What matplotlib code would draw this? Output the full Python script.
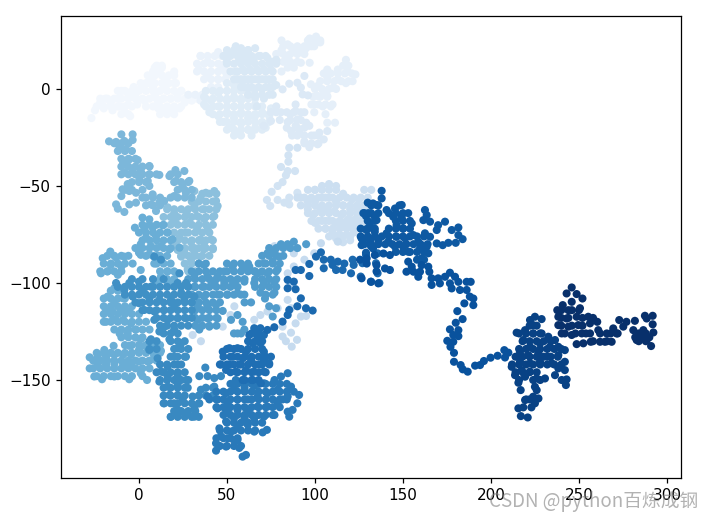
import matplotlib
matplotlib.use('Agg')
import matplotlib.pyplot as plt

# points, group by group, in walk order (light to dark)
walk_a = [(-27,-15),(-25,-11),(-22,-7),(-19,-5),(-20,-10),(-16,-7),(-15,-11),(-12,-5),(-10,-1),(-11,-9),(-8,-12),(-5,-14),(-6,-8),(-6,-3),(-3,1),(-1,-8),(-2,-4),(1,0),(3,-6),(4,3),(7,6),(8,1),(9,-3),(11,-7),(11,-10),(8,9),(10,12),(13,12),(12,8),(15,5),(15,0),(14,-5),(15,-10),(19,-10),(18,-5),(20,3),(20,9),(22,-3),(23,-10),(24,-1),(26,-7),(30,-6),(33,-5)]
walk_b = [(35,-6),(35,17),(34,10),(39,14),(45,19),(47,12),(39,7),(45,5),(50,7)]
walk_c = [(37,-4),(37,-8),(40,-12),(41,-6),(45,-9),(45,-14),(45,-2),(48,-17),(50,-12),(50,-6),(50,-1),(52,-20),(54,-15),(54,-9),(54,-4),(54,2),(56,-23),(58,-18),(58,-12),(58,-6),(58,0),(62,-21),(62,-15),(62,-9),(62,-3),(66,-20),(66,-14),(66,-8),(70,-18),(70,-12),(72,-20),(74,-14),(75,-10)]
walk_d = [(50,14),(52,18),(55,22),(58,21),(62,20),(66,21),(57,15),(61,15),(65,15),(69,17),(73,16),(76,14),(78,15),(55,9),(59,10),(63,10),(67,10),(71,10),(75,10),(58,5),(62,5),(66,5),(70,5),(74,5),(62,1),(66,0),(70,0),(74,1),(78,2),(66,-4),(71,-5),(76,-3),(67,-9)]
walk_e = [(81,25),(84.5,23),(88,20),(92,20),(97,26),(100.6,27),(103,24),(99.6,22),(95,21),(81,20),(84.5,17),(84.5,11),(88,11),(92,13.5),(97,13.5),(81,9),(117.6,15),(107,10),(113,10),(118.6,9),(123,7.5),(121.4,4),(107,6),(113,5),(117.6,3),(110,0.5),(105,-1),(101.5,-3.6),(97.7,2.4),(101.5,1.5),(107,-3.6),(99.6,-8),(104.4,-9),(109,-9),(106,-13),(99.6,-12),(107,-17.4),(111.4,-17.4)]
walk_f = [(81.6,-0.2),(85.4,2.7),(90,3.2),(92,0.7),(94,6.7),(93,-2.8),(96,-3.3),(78,-9),(80.7,-12),(75,-12),(75,-16.5),(71,-19),(89,-8),(89,-11.4),(86,-13),(94,-12),(84.5,-17),(90,-15.7),(95,-17.4),(96.8,-19),(86.4,-21.7),(91,-22.5),(89,-19),(94,-27),(87,-24),(96.8,-30),(101.5,-28.5),(99.6,-24),(105,-26),(107,-21.7),(102.5,-22.5)]
walk_g = [(85.4,-30.3),(90,-30.3),(84.9,-34.2),(84.9,-37.5),(80.7,-40.2),(88.7,-42.3),(84.5,-42.3),(83.5,-44.5),(81.6,-48),(78.8,-50),(75.4,-53),(72.7,-57.2),(74.6,-60.3),(78.8,-57.2),(82.6,-58.6),(85.4,-56),(90,-53.5),(85.4,-59.5)]
walk_h = [(92,-56),(96,-58),(100,-52),(104,-50),(108,-49),(112,-50),(116,-54),(121,-57),(125,-57),(128,-52),(132,-52),(130,-58),(128,-62),(124,-62),(120,-62),(116,-60),(112,-58),(108,-56),(104,-56),(100,-58),(96,-62),(99,-65),(103,-62),(107,-62),(111,-63),(115,-65),(119,-67),(123,-67),(127,-67),(100,-69),(104,-68),(108,-68),(112,-69),(116,-71),(120,-71),(124,-71),(128,-71),(106,-72),(110,-74),(114,-75),(118,-75),(122,-74),(116,-79),(112,-77),(120,-78)]
walk_i = [(113,-78.7),(103.4,-79.5),(99.6,-84.7),(94,-88),(88,-91.5),(84.5,-95),(88,-84.7),(77,-81),(73,-84.7),(86.4,-100),(84.5,-108.7),(86.4,-113),(78.8,-113),(73,-114.7),(69,-116.5),(65.5,-119),(92,-117.3),(89,-120.8),(81.6,-122.5),(86.4,-125.6),(81.6,-127.6),(83.5,-130),(86.8,-132.8),(89.8,-129.3),(95,-117),(54.2,-112),(52,-116.5),(47.6,-122.5),(35.2,-130),(30.5,-126.8),(-1.7,-129)]
walk_j = [(16.3,-61),(20,-64),(20,-67),(27,-64),(31.5,-60.3),(35,-56),(31.5,-52.6),(38,-53.5),(42.8,-52.6),(43.8,-57.7),(44.7,-60.3),(42.8,-65.5),(37,-62),(37,-67),(33,-65.5),(28.6,-69),(33,-72.4),(39,-72.4),(26.7,-74),(29.6,-79),(35,-77.5),(41,-77.5),(24,-82.6),(31.5,-84.4),(37,-82.6),(42,-82.6),(21,-81),(23,-76.6),(37,-79.5),(31.5,-82),(25.8,-83),(24,-86.4),(29.6,-88),(35,-86.4),(27.7,-93),(22,-83)]
walk_k = [(-10,-23.4),(-3.6,-23.4),(-17,-27),(-13,-27.3),(-8.3,-26.8),(-3.6,-26.3),(-11,-30.3),(-7.4,-31),(-9,-38),(-5.5,-36.3),(-0.7,-36.6),(-8.3,-43),(-3.6,-41.4),(1,-42.3),(5.9,-39.7),(5.9,-44),(11.6,-44.3),(0.2,-46.6),(5,-47.4),(-6.4,-49),(5.9,-50),(-9.3,-51.7),(-5.5,-52.6),(-1.7,-53.5),(-10,-55.2),(17.3,-44.9),(20.7,-41.8),(25.8,-42.3),(21,-47.4),(28.6,-47.4),(24.8,-50),(20,-55.2),(26.7,-53.5),(-13,-59.5),(-12,-61.7),(-8.3,-63.4),(-5.5,-59.5),(-1.7,-58.6),(2,-56),(7.8,-54.3),(6.8,-59.5),(11.6,-58.6),(9.7,-62.9),(14.4,-57.7)]
walk_l = [(-2.3,-71.5),(2,-66.3),(5.9,-67.2),(3,-72.4),(7.8,-71.5),(13.5,-70.3),(4,-76.6),(9.7,-75.8),(16.3,-74),(19,-77.5),(1,-80),(6.8,-81),(12.5,-81),(17.3,-82.6),(23,-81.8),(0,-84.4),(5.9,-85.2),(10.6,-86),(-16.3,-83.8),(-20.6,-87.2),(-21.6,-95),(-17.8,-94),(-13,-87),(-8.3,-86.4),(-3.6,-90),(1,-85.5),(-16,-90.7),(-10,-91.5),(-12,-95.8),(1,-93.3),(8.7,-90),(12.5,-96.7),(16.3,-94),(10.6,-100),(16.3,-100),(22,-95),(20,-100)]
walk_m = [(-14,-102.7),(-17.8,-107),(-14,-110.4),(-9,-107.9),(-18.7,-114.7),(-15,-114.7),(-10,-113.9),(-18.7,-120),(-14,-119),(-9,-119),(-5.5,-114.7),(-4.5,-120.8),(-11,-126),(-6.4,-126),(-1.7,-124),(1,-129),(-14.4,-132.4),(-5.5,-132.4),(-19.7,-134.5),(-28,-138.3),(-23.5,-138),(-18.7,-138),(-14,-137),(-9,-137),(-4.5,-137),(0,-134.5),(5,-134.5),(-28,-144),(-23.5,-142),(-18.7,-142),(-14,-141.7),(-9,-141.7),(-4.5,-141.7),(0,-140.5),(5,-140.5),(8.7,-138),(-25.4,-148.2),(-21,-149.6),(-14,-148.2),(-5.5,-149.6),(1,-146.5),(4.6,-150),(12.5,-135),(1,-132.8)]
walk_n = [(73,-84.7),(77,-83.8),(80.7,-80),(84.5,-80),(88,-78.7),(95,-80),(71,-89.8),(76,-89),(79.8,-86.4),(67.4,-95),(73,-95),(78.8,-93),(65.5,-100),(71,-100),(77,-99.3),(69,-105),(77,-105),(71.6,-108),(74,-112),(77.9,-113),(76,-117.3),(53.2,-91.5),(59,-92.4),(62.7,-91.5),(65.5,-94),(48.5,-94),(44.7,-96.7),(37,-90.7),(31.5,-95.8),(39,-96.7),(48.5,-100),(54.2,-100),(59.9,-99.3),(42.8,-100),(37,-101.9),(31.5,-101.9),(44.7,-106),(50.4,-106),(56,-105.3),(59.9,-106),(63.7,-110),(37,-107),(33.4,-112),(39,-112),(43.8,-111.3),(33.4,-119),(39,-118.2),(44.7,-118.2),(34.3,-124),(40,-122.5),(47.6,-114.4),(52.3,-119),(56,-116.5),(58.9,-120),(56,-126),(59.9,-124)]
walk_o = [(-13,-100),(-8.3,-103.6),(-5.5,-100),(0,-99.3),(-3.6,-107),(2,-103.6),(6.8,-101.9),(0,-110.4),(5.9,-107.9),(11.6,-108.7),(3,-113.9),(8.7,-114.7),(14.4,-113.9),(20,-111.3),(25.8,-108.7),(16.3,-119),(22,-118.2),(26.7,-118.2),(8.7,-119),(20,-124),(14.4,-122.5),(11.6,-125),(18.2,-108.7),(22,-100),(26.7,-100),(24,-105),(31.5,-107),(6.8,-129),(5.9,-134.5),(10.6,-138.8),(17.3,-129),(22,-133.6),(20,-138),(26.7,-138),(24,-131),(8.7,-86.4),(12.5,-88),(23,-95)]
walk_p = [(12.5,-145.7),(16.3,-143),(22,-142),(11.6,-150.8),(16.3,-148),(22,-147.4),(26.7,-150),(16.3,-153.4),(22,-152.5),(27.7,-154),(14.4,-162),(17.3,-157.7),(22,-157.7),(20,-162),(24.8,-160),(18.2,-168.9),(22,-165.4),(26.7,-167),(31.5,-168.9),(31.5,-164.6),(34.3,-162),(30.5,-158.5),(35.2,-155),(37.7,-143.6),(39,-148),(34.3,-148),(42.8,-153.4),(46.6,-148),(42.8,-149)]
walk_q = [(39,-158.5),(44.7,-160),(49.5,-156.8),(55,-150),(54,-155),(60,-154),(65.5,-153),(71,-151.7),(77,-150),(84.5,-146.5),(80.7,-148.2),(86.4,-153.4),(91,-157.7),(90,-162),(84.5,-158.5),(78.8,-155),(73,-156.8),(67.4,-158.5),(61.8,-160),(56,-160),(50.4,-162),(44.7,-164.6),(50.4,-165.4),(56,-165.4),(61.8,-165.4),(67.4,-163.7),(73,-163.7),(78.8,-162),(81.6,-160),(84.5,-166.3),(87.3,-165.4),(85.4,-168.9),(77,-168),(71,-168.9),(65.5,-169.7),(60,-169.7),(54,-169.7),(49.5,-171.4),(56,-174),(61.8,-173),(65.5,-176.6),(70.3,-177),(72.7,-175.7),(45.7,-174.9),(46.6,-179),(52.3,-176.6),(50.4,-180),(43.8,-182.6),(43.8,-186.4),(49.5,-184.3),(56,-180.9),(57,-185),(58.9,-189.5),(60.8,-188.6),(54,-180.9)]
walk_r = [(65.5,-123.3),(69,-123.3),(62.7,-126.8),(67.4,-127.6),(71,-126.8),(64.6,-131),(69,-131),(51.4,-133.6),(56,-133.6),(47.6,-135.4),(60.8,-135.4),(71,-135.4),(53.2,-138),(59,-138.8),(75,-138),(46.6,-142),(51.4,-142),(57,-142),(63.7,-139.6),(68.4,-142),(74,-141.4),(49.5,-144.8),(55,-145.7),(60.8,-144.8),(65.5,-145.7),(71,-145.7),(64.6,-150),(69.3,-151.7),(58.9,-150),(71,-139.6)]
walk_s = [(76.9,-122.8),(73,-124.2),(81.6,-119.9),(84.5,-116.5),(85.4,-113.9),(90,-112),(94.9,-113),(98.7,-114.2),(92,-107.9),(89,-103.2),(84.5,-102.7),(88,-99.3),(84.5,-98.4),(96.8,-96.4),(96.8,-90.2),(92,-93.3),(89,-93.3),(100.6,-86.4),(103.4,-84.2),(105,-88),(109,-88),(113,-89),(116.7,-90),(105,-92.4),(112,-93.3),(115.7,-93.3),(110,-90.7),(121.4,-88),(120.5,-95),(126,-96.7),(122,-90.7),(127,-89.8),(131.8,-99.3),(136.6,-100),(135.6,-95),(134.7,-89.8),(129,-85.5),(135.6,-84.7)]
walk_t = [(137.9,-52.5),(137.9,-56.4),(133,-59),(130.3,-64),(127.5,-64),(135,-59.8),(140.7,-62.4),(145.5,-61.6),(149.3,-59.8),(144.5,-65.9),(149.3,-65.9),(153,-64),(155,-69.3),(150.2,-71.9),(146.4,-70.2),(131.3,-69.3),(135,-67.6),(129.4,-72.7),(134,-73.6),(126.5,-77),(131.3,-77.9),(136,-77.9),(140.7,-74.4),(141.7,-78.7),(146.4,-76.2),(145.5,-81.3),(151.2,-77),(150.2,-81.3),(155.9,-75.3),(158.7,-78.7),(162.5,-74.4),(165.4,-76.2),(169.2,-79.6),(163.5,-81.3),(159.7,-82.2),(164.4,-84.7),(153,-83.9),(160.6,-87.3),(133,-82.2),(126.5,-80.5),(172.6,-80.5),(175.8,-79.3),(180,-79.3),(183.9,-77.4),(181.5,-75.3),(177.7,-72.7),(181.5,-71.4),(169.2,-72.7),(170,-70.2),(173.9,-68.4),(161.6,-67.6),(165.4,-68.4),(162.5,-62.4),(163.5,-65),(130,-58.6),(129,-65.5),(133.7,-65.5),(129,-72.4),(133.7,-72.4),(127,-77.5),(131.8,-81),(129,-84.4)]
walk_u = [(125.6,-88),(129.4,-87.3),(134,-85.6),(138.9,-84.8),(142.6,-85.6),(129.4,-90),(135,-90.8),(139.8,-92.5),(142.6,-93.3),(135,-94),(126.5,-97.6),(131.9,-99.4),(136,-100.2),(153,-89),(152,-94.2),(155,-91.6),(156,-94.2),(158.7,-96.8),(160.6,-90.8),(159.7,-94.2),(164.4,-91.6),(165,-94.2),(166.3,-97.6),(166.3,-101),(170,-97.6),(171,-100.2),(173.9,-96.8),(176.7,-94.7),(176.7,-100.2),(179.6,-96.8),(181.5,-99.4),(177.7,-102.8),(182.4,-103.6),(186.2,-99.4),(188.5,-99.4),(186.2,-103.6),(188,-107),(190,-108),(190,-111.4),(184.9,-110.5),(180.9,-114.5),(183.9,-118.6),(180,-120.5),(176.7,-123.9),(181.5,-124.3),(178.6,-126.8),(181.5,-127.4),(175.2,-129.8),(178.6,-130.3),(177,-132.9),(179,-136),(179,-140.6),(182.8,-142.3),(184,-144.5),(186.8,-145.7),(191,-142.6),(193.8,-142.3),(196,-140.2),(199.8,-138.5),(203.8,-137.5),(207.6,-134.6),(209.9,-135.9),(208,-138.4)]
walk_v = [(214.6,-125.6),(219.4,-124.3),(222.2,-119.1),(225,-117.4),(228.8,-118.6),(224,-121.7),(218.4,-129.4),(224,-126),(228.8,-126),(232.6,-127.7),(236.4,-129.4),(222.2,-132.9),(227.9,-131.1),(233.6,-132.9),(238.3,-132.9),(242,-134.6),(216.5,-135.4),(221.2,-137.2),(227,-136.3),(232,-138),(238.3,-137.2),(216.5,-140.6),(222.2,-141.4),(227.9,-140.6),(234.5,-141.4),(242,-140.6),(211.8,-143.2),(217.5,-144.9),(222.2,-145.7),(238.3,-144),(242,-144.9),(213.7,-147.5),(219.4,-148.3),(226,-149.2),(230.7,-149.2),(236.4,-147.5),(240.2,-150),(243,-149.7),(242.6,-152.6),(215.6,-151.4),(216.9,-155.2),(225,-153.5),(226,-155.2),(224,-158.6),(227,-159.5),(219.4,-160.3),(218.4,-164.1),(215.6,-164.6),(223,-164.1),(225,-162),(217,-168.6),(220.9,-169.3)]
walk_w = [(245.9,-102.3),(243,-105.4),(248.7,-105.7),(252,-108),(245.9,-109.7),(240.8,-111.4),(237.7,-114),(250.6,-113),(244,-114),(238.3,-117.4),(243,-118.3),(248.7,-117.4),(255.3,-117.4),(238.3,-121.7),(244,-122.5),(249.6,-121.7),(256.3,-120.8),(260.4,-120),(240.2,-126),(245.9,-126.8),(251.6,-126),(256.3,-126),(248.7,-131.5),(252.5,-131.1),(256.7,-130.3),(261,-124.3),(262,-130.3),(264.8,-130.3),(268.6,-130.3),(265.8,-126),(269.5,-123.4),(271.4,-126),(275.2,-122.5),(277,-120),(272.9,-119.1),(281.8,-119.5),(280.9,-124.3),(282.8,-129.4),(285.6,-126),(288.5,-129.4),(287.5,-116.9),(291.9,-116.9),(288.5,-118.3),(291.9,-121.3),(292.3,-125.5),(291,-132.5),(286.6,-124.3)]

# the solid parts of the clouds, read row by row: (y, [x, x, ...])
fill_a = [(11,[9,13]),(7,[5,9,13,17,20]),(3,[1,5,9,13,17,21]),(-1,[-12,-8,-4,0,4,8,12,16,20,24]),(-5,[-22,-18,-14,-10,-6,-2,2,6,10,14,18,22,26,30]),(-9,[-24,-20,-16,-12,-8,-4,4,8,12,16,20,24]),(-13,[-10,-6,12,16,20])]
fill_b = [(17,[35,39,43,47]),(13,[33,37,41,45,49]),(9,[33,37,41,45,49]),(5,[37,41,45,49]),(1,[41,45]),(-3,[28,32,36])]
fill_c = [(3,[50,54,58]),(-1,[38,42,46,50,54,58,62]),(-5,[38,42,46,50,54,58,62,66]),(-9,[38,42,46,50,54,58,62,66,70]),(-13,[42,46,50,54,58,62,66,70,74]),(-17,[46,50,54,58,62,66,70,74]),(-21,[50,54,58,62,66,70]),(-24,[54,58,64])]
fill_d = [(20,[50,54,58,62]),(17,[48,52,56,60,64,68,72]),(13,[50,54,58,62,66,70,74,78]),(9,[52,56,60,64,68,72,76]),(5,[54,56,60,64,68,72,76]),(1,[58,60,64,68,72,76]),(-3,[62,66,70,74])]
fill_e = [(25,[96,100,103]),(22,[82,86,90,94,98]),(18,[78,82,86,90,94]),(14,[82,86,90]),(12,[116,119]),(8,[105,109,113,117,121]),(4,[103,107,111,115,119]),(0,[100,104,108,112]),(-4,[99,103,107]),(-8,[98,102,106,110])]
fill_f = [(-12,[78,84,88,92]),(-16,[80,86,92]),(-20,[84,90,94]),(-24,[90,94,98,102]),(-28,[94,98,102])]
fill_h = [(-52,[96,100,104,108,112]),(-56,[90,94,98,102,106,110,114,118,122,126,130]),(-60,[92,96,100,104,108,112,116,120,124,128,132]),(-64,[96,100,104,108,112,116,120,124,128]),(-68,[98,102,106,110,114,118,122,126,130]),(-72,[102,106,110,114,118,122,126]),(-76,[108,112,116,120])]
fill_j = [(-54,[36,40,44]),(-58,[30,34,38,42]),(-62,[16,20,24,28,32,36,40,44]),(-66,[14,18,22,26,30,34,38,42]),(-70,[18,22,26,30,34,38,42]),(-74,[20,24,28,32,36,40]),(-78,[22,26,30,34,38,42]),(-82,[22,26,30,34,38,42]),(-86,[24,28,32,36,40]),(-90,[26,30,34]),(-94,[28,32])]
fill_k = [(-28,[-14,-10,-6]),(-32,[-12,-8,-4]),(-36,[-10,-6,-2]),(-40,[-10,-6,-2,2,6]),(-44,[-10,-6,-2,2,6,10,18,22]),(-48,[-4,0,4,20,24,28]),(-52,[-8,-4,2,22,26,30]),(-56,[4,8,12,18,22,26,30]),(-60,[4,8,12])]
fill_l = [(-70,[2,6,10,14]),(-74,[0,4,8,12,16]),(-78,[2,6,10,14,18]),(-82,[-2,2,6,10,14,18]),(-86,[-18,-14,-10,-6,4,8,12,16]),(-90,[-20,-16,-12,-8,10,14,18]),(-94,[-22,-18,-14,-10,12,16,20]),(-98,[12,16,20])]
fill_m = [(-104,[-16,-12]),(-108,[-20,-16,-12,-8]),(-112,[-20,-16,-12,-8,-4]),(-116,[-20,-16,-12,-8,-4,0]),(-120,[-20,-16,-12,-8,-4,0,4]),(-124,[-14,-10,-6,-2,2,6]),(-128,[-10,-6,-2,2]),(-132,[-8,-4,0,4,8,12]),(-136,[-24,-20,-16,-12,-8,-4,0,4,8,12]),(-140,[-26,-22,-18,-14,-10,-6,-2,2,6,10]),(-144,[-26,-22,-18,-14,-10,-6,-2,2,6]),(-148,[-24,-20,-16,-12,-8,-4,2])]
fill_n = [(-82,[74,78,82,86,90]),(-86,[70,74,78,82]),(-90,[34,38,50,54,58,62,68,72,76,80]),(-94,[30,34,38,42,46,50,54,58,62,66,70,74,78]),(-98,[28,32,36,40,44,48,52,56,60,66,70,74,78]),(-102,[28,32,36,40,44,48,52,56,66,70,74,78]),(-106,[30,34,38,42,46,50,54,58,72,76]),(-110,[30,34,38,42,46,60]),(-114,[32,36,40,44]),(-118,[32,36,40,44]),(-122,[32,36,40,44]),(-126,[54,58])]
fill_o = [(-98,[-4,2,8,14]),(-102,[-12,-8,-4,0,4,8,12,16,20,24,28]),(-106,[-8,-4,0,4,8,12,16,20,24,28]),(-110,[-2,2,6,10,14,18,22,26,30]),(-114,[2,6,10,14,18,22,26,30]),(-118,[10,14,18,22,26,30]),(-122,[12,16,20,24,28]),(-126,[14,18,22]),(-130,[6,10,18,22,26]),(-134,[6,10,20,24,28]),(-138,[18,22,26])]
fill_p = [(-142,[12,16,20,24]),(-146,[10,14,18,22,26]),(-150,[12,16,20,24,28]),(-154,[14,18,22,26,38,42]),(-158,[14,18,22,26,34,38,42]),(-162,[14,18,22,26,30,34]),(-166,[20,24,28,32]),(-169,[18,22,26,30,34])]
fill_q = [(-152,[52,56,60,64,68,72,76,80,84]),(-156,[44,48,52,56,60,64,68,72,76,80,84,88]),(-160,[40,44,48,52,56,60,64,68,72,76,80,84]),(-164,[44,48,52,56,60,64,68,72,76,80]),(-168,[48,52,56,60,64,68,72,76]),(-172,[50,54,58,62,66,70]),(-176,[46,50,54,58,62,66]),(-180,[44,48,52,56]),(-184,[46,50,54,58])]
fill_r = [(-126,[64,68]),(-130,[62,66,70]),(-134,[50,54,58,62,66,70]),(-138,[48,52,56,60,64,68,72]),(-142,[46,50,54,58,62,66,70,74]),(-146,[52,56,60,64,68,72]),(-150,[60,64,68])]
fill_t = [(-60,[132,136,148]),(-64,[128,132,136,142,146,150]),(-68,[130,134,146,150,154]),(-72,[126,130,134,142,146,150,154]),(-76,[126,130,134,138,142,146,150,154,158,162]),(-80,[128,132,136,140,144,148,152,156,160,164]),(-84,[146,150,154,158,162]),(-88,[158,162])]
fill_v = [(-122,[222,226]),(-126,[216,220,224,228]),(-130,[218,222,226,230,234]),(-134,[216,220,224,228,232,236,240]),(-138,[214,218,222,226,230,234,238]),(-142,[212,216,220,224,228,232,236,240]),(-146,[214,218,222,226]),(-150,[216,224,228]),(-160,[220,222])]
fill_w = [(-114,[240,246,250]),(-118,[240,244,252,258]),(-122,[240,246,252]),(-126,[242,248,254,262,268,272,284,288]),(-130,[258,266,284,288]),(-128,[282,286,290])]

groups = [walk_a, walk_b, walk_e, walk_c, walk_d, walk_f, walk_g, walk_h, walk_i, walk_j, walk_k, walk_l, walk_m, walk_n, walk_o, walk_p, walk_q, walk_r, walk_s, walk_t, walk_u, walk_v, walk_w]
fills = [fill_a, fill_b, fill_e, fill_c, fill_d, fill_f, [], fill_h, [], fill_j, fill_k, fill_l, fill_m, fill_n, fill_o, fill_p, fill_q, fill_r, [], fill_t, [], fill_v, fill_w]
shades = [0.03, 0.07, 0.09, 0.12, 0.15, 0.14, 0.19, 0.22, 0.25, 0.42, 0.46, 0.5, 0.5, 0.58, 0.63, 0.66, 0.72, 0.76, 0.78, 0.84, 0.87, 0.93, 1.0]

xticks = [0, 50, 100, 150, 200, 250, 300]
yticks = [-150, -100, -50, 0]

plt.rcParams['font.size'] = 11
plt.rcParams['axes.linewidth'] = 0.9

fig = plt.figure(figsize=(7.13, 5.19), dpi=100)
ax = fig.add_axes([61/713, 1-478/519, 620/713, 462/519])

for pts, rows, shade in zip(groups, fills, shades):
    xs = [p[0] for p in pts]
    ys = [p[1] for p in pts]
    for y, row in rows:
        xs += row
        ys += [y] * len(row)
    ax.scatter(xs, ys, c=[shade]*len(xs), cmap='Blues', vmin=0, vmax=1, s=34, edgecolors='none')

ax.set_xlim(-44.3, 308)
ax.set_ylim(-200.5, 37.6)
ax.set_xticks(xticks)
ax.set_yticks(yticks)
ax.tick_params(length=3.9, width=0.9)

fig.text(0.98, 0.033, 'CSDN @python百炼成钢', color='#808080', alpha=0.6, fontsize=13.5,
         ha='right', va='center', family=['Noto Sans CJK SC', 'DejaVu Sans'])

fig.savefig('out.png', dpi=100)
